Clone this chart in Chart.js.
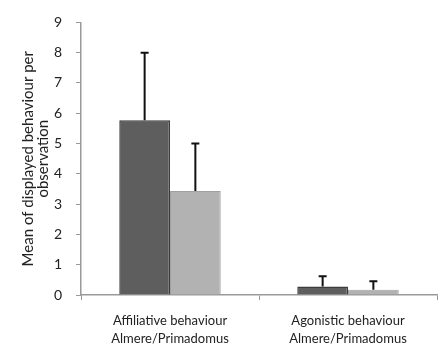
<!DOCTYPE html>
<html>
<head>
<meta charset="utf-8">
<script src="https://cdn.jsdelivr.net/npm/chart.js@4"></script>
<style>
  html, body { margin: 0; padding: 0; background: #fff; }
  #wrap { width: 438px; height: 352px; }
</style>
</head>
<body>
<div id="wrap"><canvas id="chart" width="438" height="352"></canvas></div>
<script>
// categorias e valores
const categorias = [
  ["Affiliative behaviour", "Almere/Primadomus"],
  ["Agonistic behaviour", "Almere/Primadomus"]
];
const mediaAlmere = [5.77, 0.28];
const mediaPrimadomus = [3.43, 0.17];
// barra de erro superior (topo da barra de erro)
const erroAlmere = [8.0, 0.62];
const erroPrimadomus = [5.0, 0.45];
const ticksY = [0, 1, 2, 3, 4, 5, 6, 7, 8, 9];

const fonte = "Lato, 'Open Sans', sans-serif";

// desenha as barras de erro (só a parte de cima, com "cap")
const barrasErro = {
  id: "barrasErro",
  afterDatasetsDraw(chart) {
    const ctx = chart.ctx;
    const y = chart.scales.y;
    chart.data.datasets.forEach((ds, i) => {
      const meta = chart.getDatasetMeta(i);
      meta.data.forEach((bar, j) => {
        const topo = y.getPixelForValue(ds.erroTopo[j]);
        const base = y.getPixelForValue(ds.data[j]);
        ctx.save();
        ctx.strokeStyle = "#111";
        ctx.lineWidth = 2;
        ctx.beginPath();
        ctx.moveTo(bar.x, base);
        ctx.lineTo(bar.x, topo);
        ctx.moveTo(bar.x - 4, topo);
        ctx.lineTo(bar.x + 4, topo);
        ctx.stroke();
        ctx.restore();
      });
    });
  }
};

new Chart(document.getElementById("chart").getContext("2d"), {
  type: "bar",
  data: {
    labels: categorias,
    datasets: [
      {
        label: "Almere",
        data: mediaAlmere,
        erroTopo: erroAlmere,
        backgroundColor: "#5e5e5e",
        borderColor: "#3c3c3c",
        borderWidth: 1.5,
        barPercentage: 1,
        categoryPercentage: 0.57
      },
      {
        label: "Primadomus",
        data: mediaPrimadomus,
        erroTopo: erroPrimadomus,
        backgroundColor: "#b2b2b2",
        borderColor: "#a0a0a0",
        borderWidth: 1,
        barPercentage: 1,
        categoryPercentage: 0.57
      }
    ]
  },
  options: {
    responsive: false,
    animation: false,
    layout: { padding: { top: 17, right: 1, left: 0, bottom: 0 } },
    plugins: {
      legend: { display: false },
      tooltip: { enabled: false }
    },
    scales: {
      x: {
        afterFit(s) { s.height = 57; },
        border: { color: "#9a9a9a", width: 1.5 },
        grid: { drawOnChartArea: false, tickLength: 5, color: "#9a9a9a", offset: true },
        ticks: {
          color: "#222",
          padding: 11,
          font: { family: fonte, size: 13, lineHeight: 1.45 },
          maxRotation: 0
        }
      },
      y: {
        min: 0,
        max: 9,
        afterFit(s) { s.width = 81; },
        afterBuildTicks(s) { s.ticks = ticksY.map(v => ({ value: v })); },
        border: { color: "#9a9a9a", width: 1.5 },
        grid: { drawOnChartArea: false, tickLength: 5, color: "#9a9a9a" },
        ticks: {
          color: "#222",
          padding: 14,
          font: { family: fonte, size: 14 }
        },
        title: {
          display: true,
          text: ["Mean of displayed behaviour per", "observation"],
          color: "#222",
          font: { family: fonte, size: 15, lineHeight: 1.05 },
          padding: { top: 20, bottom: 0 }
        }
      }
    }
  },
  plugins: [barrasErro]
});
</script>
</body>
</html>
